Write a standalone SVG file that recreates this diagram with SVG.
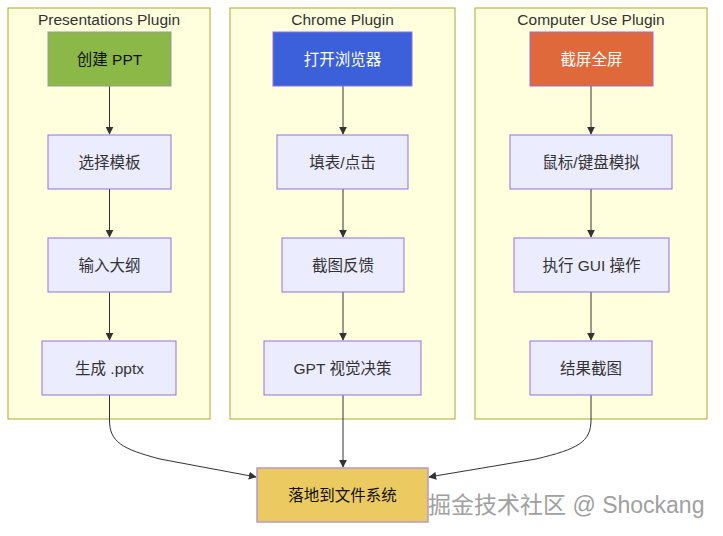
<svg xmlns="http://www.w3.org/2000/svg" width="723" height="536" viewBox="0 0 723 536">
<style>
text{font-family:"Liberation Sans","Noto Sans CJK SC",sans-serif;text-anchor:middle;dominant-baseline:central}
.cl{fill:#ffffde;stroke:#aaaa33;stroke-width:1}
.ct{font-size:15.5px;fill:#333}
.n{fill:#ececff;stroke:#9370db;stroke-width:1}
.nt{font-size:15.5px;fill:#333}
.e{fill:none;stroke:#333;stroke-width:1}
.wm{font-size:23px;fill:#a0a0a0;text-anchor:start}
</style>
<defs>
<marker id="ah" viewBox="0 0 10 10" refX="9" refY="5" markerWidth="8" markerHeight="8" orient="auto" markerUnits="userSpaceOnUse">
<path d="M0,0 L10,5 L0,10 z" fill="#333"/>
</marker>
</defs>
<g id="clusters">
<g id="c-presentations"><rect class="cl" x="8" y="8" width="202" height="411"/><text class="ct" x="109" y="19">Presentations Plugin</text></g>
<g id="c-chrome"><rect class="cl" x="230" y="8" width="225" height="411"/><text class="ct" x="342.5" y="19">Chrome Plugin</text></g>
<g id="c-computer"><rect class="cl" x="475" y="8" width="232" height="411"/><text class="ct" x="591" y="19">Computer Use Plugin</text></g>
</g>
<g id="edges">
<path class="e" d="M109.5,86 V134" marker-end="url(#ah)"/>
<path class="e" d="M109.5,189 V237" marker-end="url(#ah)"/>
<path class="e" d="M109.5,292 V340" marker-end="url(#ah)"/>
<path class="e" d="M343,86 V134" marker-end="url(#ah)"/>
<path class="e" d="M343,189 V237" marker-end="url(#ah)"/>
<path class="e" d="M343,292 V340" marker-end="url(#ah)"/>
<path class="e" d="M591,86 V134" marker-end="url(#ah)"/>
<path class="e" d="M591,189 V237" marker-end="url(#ah)"/>
<path class="e" d="M591,292 V340" marker-end="url(#ah)"/>
<path class="e" d="M109.5,395 V420 C109.5,442 122,449 160,459 L256,477" marker-end="url(#ah)"/>
<path class="e" d="M343,395 V467" marker-end="url(#ah)"/>
<path class="e" d="M591,395 V420 C591,442 578,449 536,459 L429,477" marker-end="url(#ah)"/>
</g>
<g id="n-create-ppt"><rect x="48" y="32" width="123" height="54" fill="#8cb847" stroke="#999" stroke-width="1"/><text class="nt" x="109.5" y="59" style="fill:#111">创建 PPT</text></g>
<g id="n-select-template"><rect class="n" x="48" y="135" width="123" height="54"/><text class="nt" x="109.5" y="162">选择模板</text></g>
<g id="n-input-outline"><rect class="n" x="48" y="238" width="123" height="54"/><text class="nt" x="109.5" y="265">输入大纲</text></g>
<g id="n-gen-pptx"><rect class="n" x="42" y="341" width="134" height="54"/><text class="nt" x="109.5" y="368">生成 .pptx</text></g>
<g id="n-open-browser"><rect x="273" y="32" width="139" height="54" fill="#3b60d9" stroke="#9370db" stroke-width="1"/><text class="nt" x="342.5" y="59" style="fill:#fff">打开浏览器</text></g>
<g id="n-fill-click"><rect class="n" x="277" y="135" width="131" height="54"/><text class="nt" x="342.5" y="162">填表/点击</text></g>
<g id="n-screenshot-feedback"><rect class="n" x="282" y="238" width="122" height="54"/><text class="nt" x="343" y="265">截图反馈</text></g>
<g id="n-gpt-vision"><rect class="n" x="264" y="341" width="157" height="54"/><text class="nt" x="342.5" y="368">GPT 视觉决策</text></g>
<g id="n-fullscreen"><rect x="530" y="32" width="123" height="54" fill="#e0693b" stroke="#9370db" stroke-width="1"/><text class="nt" x="591.5" y="59" style="fill:#fff">截屏全屏</text></g>
<g id="n-mouse-kb"><rect class="n" x="510" y="135" width="162" height="54"/><text class="nt" x="591" y="162">鼠标/键盘模拟</text></g>
<g id="n-gui-op"><rect class="n" x="514" y="238" width="155" height="54"/><text class="nt" x="591.5" y="265">执行 GUI 操作</text></g>
<g id="n-result-shot"><rect class="n" x="530" y="341" width="122" height="54"/><text class="nt" x="591" y="368">结果截图</text></g>
<g id="n-filesystem"><rect x="257" y="468" width="171" height="54" fill="#ebca62" stroke="#b89ac8" stroke-width="1.5"/><text class="nt" x="342.5" y="495" style="fill:#111">落地到文件系统</text></g>
<text class="wm" x="428" y="505">掘金技术社区 @ Shockang</text>
</svg>
